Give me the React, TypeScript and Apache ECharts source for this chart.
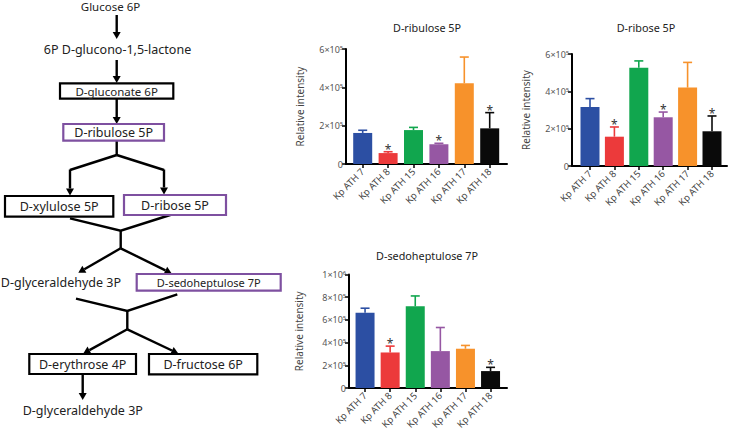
import React, { useEffect, useRef } from 'react';
import * as echarts from 'echarts';

// ---------- data ----------
const categories = ['Kp ATH 7', 'Kp ATH 8', 'Kp ATH 15', 'Kp ATH 16', 'Kp ATH 17', 'Kp ATH 18'];
const barColors = ['#2C4FA3', '#EC3A3B', '#11A64E', '#9657A3', '#F7922B', '#0A0A0A'];

const ribuloseMean = [162000, 57000, 177000, 103000, 421000, 186000];
const ribuloseErr = [14000, 7000, 14000, 5000, 137000, 82000];
const ribuloseStar = [0, 1, 0, 1, 0, 1];

const riboseMean = [316000, 157000, 527000, 261000, 420000, 186000];
const riboseErr = [45000, 52000, 36000, 28000, 135000, 82000];
const riboseStar = [0, 1, 0, 1, 0, 1];

const sedoMean = [662000, 313000, 720000, 325000, 346000, 149000];
const sedoErr = [41000, 56000, 91000, 208000, 29000, 33000];
const sedoStar = [0, 1, 0, 0, 0, 1];

const chartTitles = ['D-ribulose 5P', 'D-ribose 5P', 'D-sedoheptulose 7P'];
const yMaxes = [600000, 600000, 1000000];
const yInterval = 200000;
const yAxisName = 'Relative intensity';

// pathway texts
const pathTexts = {
  glucose: 'Glucose 6P',
  lactone: '6P D-glucono-1,5-lactone',
  gluconate: 'D-gluconate 6P',
  ribulose: 'D-ribulose 5P',
  xylulose: 'D-xylulose 5P',
  ribose: 'D-ribose 5P',
  glyc: 'D-glyceraldehyde 3P',
  sedo: 'D-sedoheptulose 7P',
  erythrose: 'D-erythrose 4P',
  fructose: 'D-fructose 6P',
};

const FONT = '"Noto Sans", "DejaVu Sans", sans-serif';
const PURPLE = '#7E50A0';
const INK = '#222';

function supFmt(v: number): string {
  if (v === 0) return '0';
  const e = Math.floor(Math.log10(v) + 1e-9);
  const m = Math.round(v / Math.pow(10, e));
  const sups: Record<string, string> = { '0': '⁰', '1': '¹', '2': '²', '3': '³', '4': '⁴', '5': '⁵', '6': '⁶', '7': '⁷', '8': '⁸', '9': '⁹' };
  return `${m}×10${String(e).split('').map((c) => sups[c]).join('')}`;
}

// ---------- pathway graphic helpers ----------
function txt(x: number, y: number, text: string, size = 12.5, align = 'center', vAlign = 'middle') {
  return {
    type: 'text',
    x,
    y,
    style: { text, fill: INK, font: `${size}px ${FONT}`, align, verticalAlign: vAlign },
    z: 10,
  };
}
function box(x1: number, y1: number, x2: number, y2: number, color: string, text: string, size = 12.5) {
  return [
    {
      type: 'rect',
      shape: { x: x1, y: y1, width: x2 - x1, height: y2 - y1 },
      style: { fill: '#fff', stroke: color, lineWidth: 2.2 },
      z: 5,
    },
    txt((x1 + x2) / 2, (y1 + y2) / 2, text, size),
  ];
}
function pl(points: number[][]) {
  return {
    type: 'polyline',
    shape: { points },
    style: { stroke: '#000', lineWidth: 2.4, fill: null },
    z: 4,
  };
}
function arrow(x1: number, y1: number, x2: number, y2: number) {
  const dx = x2 - x1;
  const dy = y2 - y1;
  const L = Math.sqrt(dx * dx + dy * dy);
  const ux = dx / L;
  const uy = dy / L;
  const hl = 7;
  const hw = 4;
  const bx = x2 - ux * hl;
  const by = y2 - uy * hl;
  return [
    pl([[x1, y1], [bx, by]]),
    {
      type: 'polygon',
      shape: { points: [[x2, y2], [bx - uy * hw, by + ux * hw], [bx + uy * hw, by - ux * hw]] },
      style: { fill: '#000' },
      z: 4,
    },
  ];
}

const pathwayGraphics = [
  txt(110.5, 0.5, pathTexts.glucose, 11.5, 'center', 'top'),
  ...arrow(116.7, 15, 116.7, 39),
  txt(117.5, 49.5, pathTexts.lactone),
  ...arrow(116.7, 60, 116.7, 83),
  ...box(60, 83.3, 173.3, 98.7, '#000', pathTexts.gluconate, 11.5),
  ...arrow(116.7, 99, 116.7, 124),
  ...box(63.3, 124, 164, 140.7, PURPLE, pathTexts.ribulose),
  pl([[116.7, 141], [116.7, 155]]),
  pl([[116.7, 155], [70, 170]]),
  pl([[116.7, 155], [164, 170]]),
  ...arrow(70, 169.5, 70, 195.5),
  ...arrow(164, 169.5, 164, 194.5),
  ...box(5, 196, 113.3, 216.7, '#000', pathTexts.xylulose),
  ...box(124, 195, 226, 215, PURPLE, pathTexts.ribose),
  pl([[70, 218.3], [120.7, 230.7], [171.7, 214.5]]),
  pl([[120.7, 230.7], [120.7, 248.3]]),
  ...arrow(120.7, 248.3, 78.3, 272.7),
  ...arrow(120.7, 248.3, 171.7, 273.5),
  txt(121, 282.7, pathTexts.glyc, 12.5, 'right'),
  ...box(136.7, 274, 280.7, 290.7, PURPLE, pathTexts.sedo, 11),
  pl([[76, 298.7], [127.3, 311], [177.3, 294.3]]),
  pl([[127.3, 311], [127.3, 329.3]]),
  ...arrow(127.3, 329.3, 83.3, 353.5),
  ...arrow(127.3, 329.3, 178.3, 353.5),
  ...box(29.3, 354, 136, 374, '#000', pathTexts.erythrose),
  ...box(149, 354, 257.3, 374.3, '#000', pathTexts.fructose),
  ...arrow(82.7, 374.5, 82.7, 400),
  txt(82.8, 410, pathTexts.glyc),
];

// ---------- chart panel layout ----------
const panels = [
  { left: 350, width: 152.4, top: 49, height: 115, off: 4, lineL: 346, lineR: 507, tx: 427, ty: 27, gap: 41 },
  { left: 577.8, width: 146.4, top: 54, height: 112, off: 5.8, lineL: 572, lineR: 727, tx: 646, ty: 27, gap: 41 },
  { left: 352.5, width: 150.6, top: 274.5, height: 113.5, off: 3.5, lineL: 349, lineR: 507, tx: 427, ty: 255, gap: 45 },
];

const seriesData = [
  { mean: ribuloseMean, err: ribuloseErr, star: ribuloseStar },
  { mean: riboseMean, err: riboseErr, star: riboseStar },
  { mean: sedoMean, err: sedoErr, star: sedoStar },
];

export default function App() {
  const ref = useRef<HTMLDivElement>(null);
  useEffect(() => {
    if (!ref.current) return;
    const chart = echarts.init(ref.current, undefined, { renderer: 'svg' });

    const grid: any[] = [];
    const xAxis: any[] = [];
    const yAxis: any[] = [];
    const series: any[] = [];
    const titleGraphics: any[] = [];

    panels.forEach((p, i) => {
      grid.push({ left: p.left, top: p.top, width: p.width, height: p.height });
      xAxis.push({
        type: 'category',
        gridIndex: i,
        data: categories,
        axisLine: { show: false },
        axisTick: { show: true, alignWithLabel: true, length: 4, lineStyle: { color: '#000', width: 1.5 } },
        axisLabel: { rotate: 45, fontSize: 9.5, color: '#444', margin: 6, fontFamily: FONT, interval: 0 },
      });
      yAxis.push({
        type: 'value',
        gridIndex: i,
        min: 0,
        max: yMaxes[i],
        interval: yInterval,
        offset: p.off,
        splitLine: { show: false },
        axisLine: { show: true, lineStyle: { color: '#000', width: 2 } },
        axisTick: { show: true, length: 4, lineStyle: { color: '#000', width: 1.5 } },
        axisLabel: { fontSize: 9, color: '#555', margin: 3, fontFamily: FONT, formatter: (v: number) => supFmt(v) },
        name: yAxisName,
        nameLocation: 'middle',
        nameGap: p.gap,
        nameTextStyle: { fontSize: 10, color: '#444', fontFamily: FONT },
      });
      const d = seriesData[i];
      series.push({
        type: 'bar',
        xAxisIndex: i,
        yAxisIndex: i,
        barWidth: 19,
        data: d.mean.map((v, k) => ({ value: v, itemStyle: { color: barColors[k] } })),
        z: 2,
      });
      series.push({
        type: 'custom',
        xAxisIndex: i,
        yAxisIndex: i,
        encode: { x: 0, y: 1 },
        data: d.mean.map((v, k) => [k, v, d.err[k], d.star[k]]),
        z: 3,
        renderItem: (_params: any, api: any) => {
          const k = api.value(0);
          const m = api.value(1);
          const e = api.value(2);
          const s = api.value(3);
          const base = api.coord([k, m]);
          const top = api.coord([k, m + e]);
          const c = barColors[k];
          const children: any[] = [
            { type: 'line', shape: { x1: base[0], y1: base[1], x2: top[0], y2: top[1] }, style: { stroke: c, lineWidth: 1.6 } },
            { type: 'line', shape: { x1: top[0] - 4.5, y1: top[1], x2: top[0] + 4.5, y2: top[1] }, style: { stroke: c, lineWidth: 1.6 } },
          ];
          if (s) {
            children.push({
              type: 'text',
              x: top[0],
              y: top[1] - 2.5,
              style: { text: '*', fill: '#333', font: `12px ${FONT}`, align: 'center', verticalAlign: 'middle' },
            });
          }
          return { type: 'group', children };
        },
      });
      titleGraphics.push({
        type: 'text',
        x: p.tx,
        y: p.ty,
        style: { text: chartTitles[i], fill: INK, font: `10.8px ${FONT}`, align: 'center', verticalAlign: 'middle' },
      });
    });

    // extended x-axis baselines (Prism style)
    panels.forEach((p, i) => {
      const gi = 3 + i;
      grid.push({ left: p.lineL, top: p.top, width: p.lineR - p.lineL, height: p.height });
      xAxis.push({
        type: 'value',
        gridIndex: gi,
        min: 0,
        max: 1,
        axisLine: { show: true, onZero: false, lineStyle: { color: '#000', width: 2 } },
        axisTick: { show: false },
        axisLabel: { show: false },
        splitLine: { show: false },
      });
      yAxis.push({ type: 'value', gridIndex: gi, min: 0, max: 1, show: false });
    });

    chart.setOption({
      animation: false,
      backgroundColor: '#fff',
      textStyle: { fontFamily: FONT },
      grid,
      xAxis,
      yAxis,
      series,
      graphic: [...pathwayGraphics, ...titleGraphics],
    });
    return () => chart.dispose();
  }, []);
  return <div ref={ref} style={{ position: 'fixed', left: 0, top: 0, width: 729, height: 433, background: '#fff' }} />;
}
